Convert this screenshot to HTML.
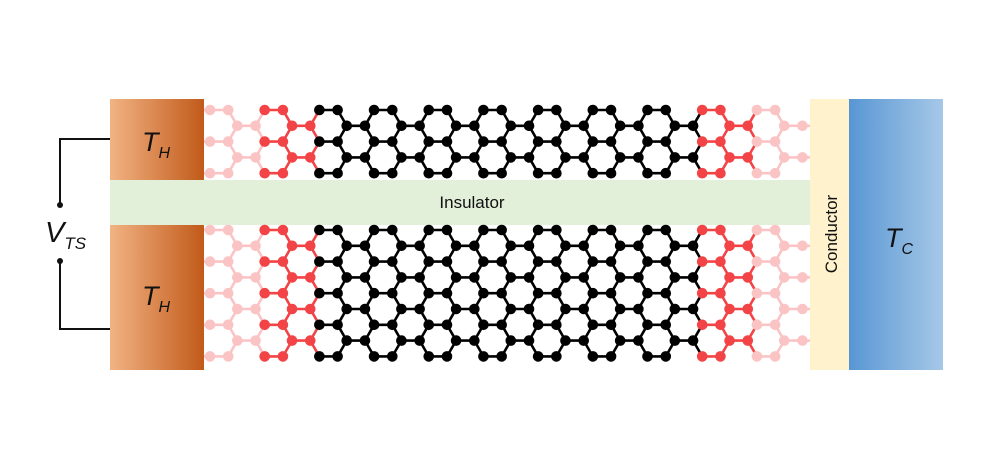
<!DOCTYPE html>
<html><head><meta charset="utf-8"><style>
html,body{margin:0;padding:0;background:#fff;}
svg{display:block;font-family:"Liberation Sans",sans-serif;}
</style></head><body>
<svg id="s" width="986" height="470" viewBox="0 0 986 470">
<defs>
<linearGradient id="gh" x1="0" x2="1" y1="0" y2="0"><stop offset="0" stop-color="#f2b383"/><stop offset="1" stop-color="#c15a1a"/></linearGradient>
<linearGradient id="gc" x1="0" x2="1" y1="0" y2="0"><stop offset="0" stop-color="#5896d3"/><stop offset="1" stop-color="#a6c8e8"/></linearGradient>
</defs>
<rect x="110" y="99" width="94" height="81" fill="url(#gh)"/>
<rect x="110" y="225" width="94" height="145" fill="url(#gh)"/>
<rect x="110" y="180" width="700" height="45" fill="#e2efd9"/>
<text x="472" y="208" font-size="17" text-anchor="middle" fill="#111">Insulator</text>
<rect x="810" y="99" width="39" height="271" fill="#fff2cc"/>
<text transform="translate(837,234) rotate(-90)" font-size="17" text-anchor="middle" fill="#111">Conductor</text>
<rect x="849" y="99" width="94" height="271" fill="url(#gc)"/>
<text x="885" y="247" font-size="27" font-style="italic" fill="#111">T<tspan font-size="16" dy="7">C</tspan></text>
<text x="142" y="151" font-size="27" font-style="italic" fill="#111">T<tspan font-size="16" dy="7">H</tspan></text>
<text x="142" y="305" font-size="27" font-style="italic" fill="#111">T<tspan font-size="16" dy="7">H</tspan></text>
<g stroke="#111" stroke-width="2" fill="none">
<polyline points="110,139 60,139 60,205"/>
<polyline points="60,261 60,329 110,329"/>
</g>
<circle cx="60" cy="205" r="3" fill="#111"/>
<circle cx="60" cy="261" r="3" fill="#111"/>
<text x="45" y="242" font-size="29" font-style="italic" fill="#111">V<tspan font-size="17" dy="7">TS</tspan></text>
<g id="lat"></g>
</svg>
<script>
const periodColors=['#fbc4c4','#f24447','#000','#000','#000','#000','#000','#000','#000','#f24447','#fbc4c4'];
const topRows=[110,173.2];
const botRows=[230,356.4];
const b=18.23, x0=210, dy=15.8;
const ns='http://www.w3.org/2000/svg';
const g=document.getElementById('lat');
const lines=document.createElementNS(ns,'g'), dots=document.createElementNS(ns,'g');
g.appendChild(lines);g.appendChild(dots);
function L(x1,y1,x2,y2,c){const e=document.createElementNS(ns,'line');


e.setAttribute('x1',x1);e.setAttribute('y1',y1);e.setAttribute('x2',x2);e.setAttribute('y2',y2);e.setAttribute('stroke',c);e.setAttribute('stroke-width','2.6');lines.appendChild(e);}
function D(x,y,c){const e=document.createElementNS(ns,'circle');


e.setAttribute('cx',x);e.setAttribute('cy',y);e.setAttribute('r','5.3');e.setAttribute('fill',c);dots.appendChild(e);}
function lattice(rows){
 const [ya,yb]=rows; const n=Math.round((yb-ya)/dy);
 const N=periodColors.length;
 for(let r=0;r<=n;r++){
  const y=ya+r*dy, isA=r%2==0;
  for(let k=0;k<N;k++){
   const c=periodColors[k], px=x0+k*3*b;
   if(isA){
    const a1=px,a2=px+b;
    L(a1,y,a2,y,c);
    if(k==0)L(204,y,a1,y,c);
    [-1,1].forEach(s=>{if(r+s>=0&&r+s<=n){L(a2,y,px+1.5*b,y+s*dy,c);}});
    D(a1,y,c);D(a2,y,c);
   }else{
    const b1=px+1.5*b,b2=px+2.5*b;
    L(b1,y,b2,y,c);
    if(k==N-1)L(b2,y,810,y,c);
    else [-1,1].forEach(s=>L(b2,y,px+3*b,y+s*dy,c));
    D(b1,y,c);D(b2,y,c);
   }
  }
 }
}
lattice(topRows);lattice(botRows);
</script>
</body></html>
